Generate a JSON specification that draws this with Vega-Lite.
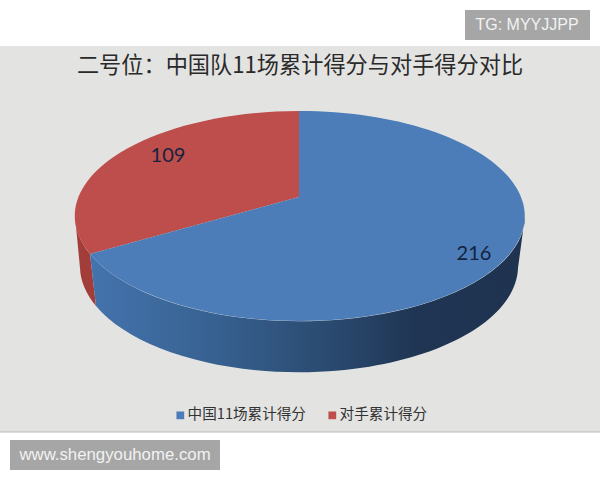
{
  "$schema": "https://vega.github.io/schema/vega-lite/v6.json",
  "width": 600,
  "height": 480,
  "padding": 0,
  "autosize": "none",
  "background": "white",
  "title": {
    "text": "二号位：中国队11场累计得分与对手得分对比",
    "font": "Noto Sans CJK SC",
    "fontSize": 22.2,
    "fontWeight": "normal",
    "color": "#2a2a2a",
    "anchor": "middle",
    "frame": "group",
    "offset": -77
  },
  "config": {"view": {"stroke": null}},
  "data": {
    "values": [
      {"team": "中国11场累计得分", "score": 216},
      {"team": "对手累计得分", "score": 109}
    ]
  },
  "layer": [
    {
      "data": {"values": [{"panel": "chart"}]},
      "mark": {"type": "rect", "color": "#e3e3e2"},
      "encoding": {
        "x": {"datum": 0, "type": "quantitative", "scale": {"domain": [0, 600], "nice": false, "zero": false}, "axis": null},
        "x2": {"datum": 600},
        "y": {"datum": 46, "type": "quantitative", "scale": {"domain": [480, 0], "nice": false, "zero": false}, "axis": null},
        "y2": {"datum": 432}
      }
    },
    {
      "data": {"values": [{"panel": "chart"}]},
      "mark": {"type": "rule", "color": "#b8b8b8", "strokeWidth": 1},
      "encoding": {
        "y": {"datum": 432, "type": "quantitative", "axis": null}
      }
    },
    {
      "transform": [{"filter": "datum.score == 109"}],
      "mark": {
        "type": "point",
        "filled": true,
        "size": 4,
        "opacity": 1,
        "color": "#a33d3a",
        "shape": "M-225,0A225,105 0 0 0 -210,38L-204,90A219,106 0 0 1 -220,52Z"
      },
      "encoding": {
        "x": {"datum": 300, "type": "quantitative", "axis": null},
        "y": {"datum": 216, "type": "quantitative", "axis": null}
      }
    },
    {
      "transform": [{"filter": "datum.score == 216"}],
      "mark": {
        "type": "point",
        "filled": true,
        "size": 4,
        "opacity": 1,
        "color": {
          "gradient": "linear",
          "x1": 0,
          "y1": 0,
          "x2": 1,
          "y2": 0,
          "stops": [
            {"offset": 0, "color": "#4473ad"},
            {"offset": 0.3, "color": "#36608f"},
            {"offset": 0.55, "color": "#2a4a70"},
            {"offset": 0.75, "color": "#1f3553"},
            {"offset": 1, "color": "#1f3350"}
          ]
        },
        "shape": "M-210,38A225,105 0 0 0 225,0L218,52A219,106 0 0 1 -204,90Z"
      },
      "encoding": {
        "x": {"datum": 300, "type": "quantitative", "axis": null},
        "y": {"datum": 216, "type": "quantitative", "axis": null}
      }
    },
    {
      "transform": [{"filter": "datum.score == 109"}],
      "mark": {
        "type": "point",
        "filled": true,
        "size": 4,
        "opacity": 1,
        "shape": "M-210,38A225,105 0 0 1 -1,-105L-1,-19Z"
      },
      "encoding": {
        "x": {"datum": 300, "type": "quantitative", "axis": null},
        "y": {"datum": 216, "type": "quantitative", "axis": null},
        "color": {
          "field": "team",
          "type": "nominal",
          "scale": {"domain": ["中国11场累计得分", "对手累计得分"], "range": ["#4c7db8", "#bd4e4b"]},
          "legend": {
            "title": null,
            "orient": "none",
            "legendX": 173,
            "legendY": 408,
            "direction": "horizontal",
            "columns": 2,
            "columnPadding": 19,
            "symbolType": "square",
            "symbolSize": 60,
            "symbolOpacity": 1,
            "labelFont": "Noto Sans CJK SC",
            "labelFontSize": 14.6,
            "labelColor": "#333333",
            "labelOffset": 0,
            "labelLimit": 200
          }
        }
      }
    },
    {
      "transform": [{"filter": "datum.score == 216"}],
      "mark": {
        "type": "point",
        "filled": true,
        "size": 4,
        "opacity": 1,
        "shape": "M-1,-105A225,105 0 1 1 -210,38L-1,-19Z"
      },
      "encoding": {
        "x": {"datum": 300, "type": "quantitative", "axis": null},
        "y": {"datum": 216, "type": "quantitative", "axis": null},
        "color": {"field": "team", "type": "nominal"}
      }
    },
    {
      "transform": [{"filter": "datum.score == 216"}],
      "mark": {"type": "text", "font": "Lato", "fontSize": 20, "color": "#14233f"},
      "encoding": {
        "x": {"datum": 474, "type": "quantitative", "axis": null},
        "y": {"datum": 254, "type": "quantitative", "axis": null},
        "text": {"field": "score", "type": "quantitative"}
      }
    },
    {
      "transform": [{"filter": "datum.score == 109"}],
      "mark": {"type": "text", "font": "Lato", "fontSize": 20, "color": "#14233f"},
      "encoding": {
        "x": {"datum": 168, "type": "quantitative", "axis": null},
        "y": {"datum": 156, "type": "quantitative", "axis": null},
        "text": {"field": "score", "type": "quantitative"}
      }
    },
    {
      "data": {"values": [{"site": "TG: MYYJJPP"}]},
      "mark": {"type": "rect", "color": "#a6a6a6"},
      "encoding": {
        "x": {"datum": 465, "type": "quantitative", "axis": null},
        "x2": {"datum": 590},
        "y": {"datum": 10, "type": "quantitative", "axis": null},
        "y2": {"datum": 40}
      }
    },
    {
      "data": {"values": [{"site": "TG: MYYJJPP"}]},
      "mark": {"type": "text", "font": "Liberation Sans", "fontSize": 16, "color": "#f2f2f2"},
      "encoding": {
        "x": {"datum": 527, "type": "quantitative", "axis": null},
        "y": {"datum": 25, "type": "quantitative", "axis": null},
        "text": {"field": "site"}
      }
    },
    {
      "data": {"values": [{"site": "www.shengyouhome.com"}]},
      "mark": {"type": "rect", "color": "#a6a6a6"},
      "encoding": {
        "x": {"datum": 10, "type": "quantitative", "axis": null},
        "x2": {"datum": 220},
        "y": {"datum": 440, "type": "quantitative", "axis": null},
        "y2": {"datum": 470}
      }
    },
    {
      "data": {"values": [{"site": "www.shengyouhome.com"}]},
      "mark": {"type": "text", "font": "Liberation Sans", "fontSize": 16.8, "color": "#f2f2f2"},
      "encoding": {
        "x": {"datum": 115, "type": "quantitative", "axis": null},
        "y": {"datum": 455, "type": "quantitative", "axis": null},
        "text": {"field": "site"}
      }
    }
  ]
}
